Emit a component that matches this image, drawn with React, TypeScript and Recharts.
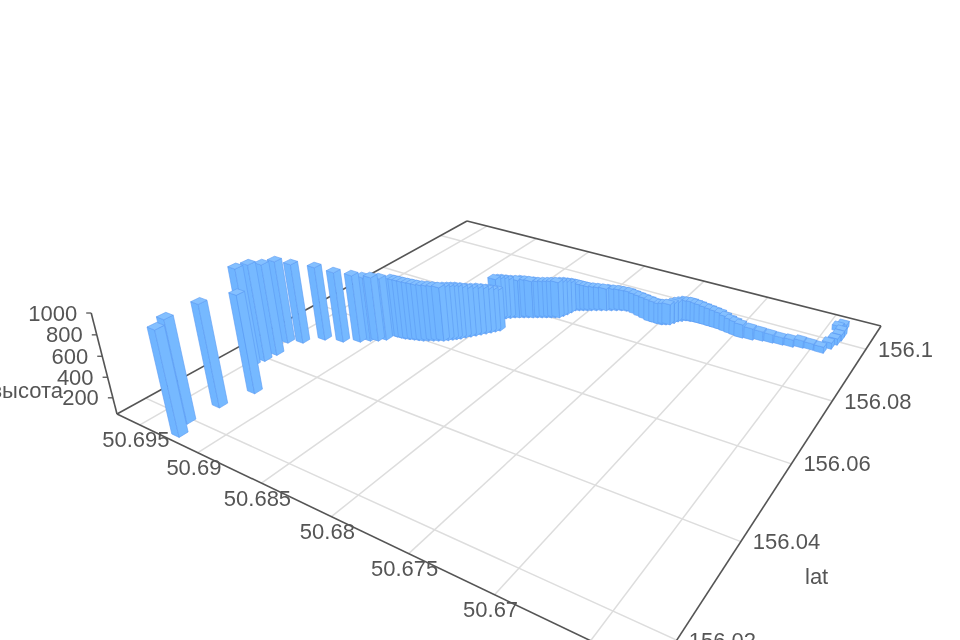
import React from 'react';
import { ScatterChart, Scatter, XAxis, YAxis, ReferenceLine } from 'recharts';

// lat / lon names follow the chart's own (swapped) axis naming: "lat" is the 156.x axis
const lonValues = [
  50.69238, 50.69305, 50.69279, 50.69219, 50.69471, 50.69454, 50.69445, 50.69501, 50.69415, 50.69319,
  50.69197, 50.691, 50.69052, 50.69007, 50.6897,
  50.68934, 50.68902, 50.6887, 50.6884, 50.6881, 50.6878, 50.6875, 50.68722, 50.68693, 50.68665,
  50.68636, 50.68614, 50.68593, 50.68575, 50.68556, 50.68536, 50.68515, 50.68494, 50.68473, 50.68452,
  50.68432, 50.68414, 50.68396,
  50.68498, 50.68478, 50.68459, 50.68436, 50.68413, 50.68386, 50.6836, 50.68333, 50.68306, 50.6828,
  50.68253, 50.68226, 50.68199, 50.68175, 50.68151, 50.68139, 50.68127, 50.68118, 50.6811, 50.68086,
  50.68062, 50.68037, 50.68013, 50.67983, 50.67953, 50.67923, 50.67893, 50.67862, 50.67832, 50.67798,
  50.67765, 50.67718, 50.67671, 50.67625, 50.67578, 50.67539, 50.675, 50.67476, 50.67453, 50.67438,
  50.67424, 50.67404, 50.67384, 50.67357, 50.6733, 50.673, 50.67271, 50.67233, 50.67195, 50.67157,
  50.6712, 50.6708, 50.6704, 50.67001, 50.66962, 50.66895, 50.66833, 50.66767, 50.66701, 50.66635,
  50.66575, 50.6651, 50.66442, 50.66414, 50.66397, 50.6639, 50.6639, 50.66428, 50.66407,
];
const latValues = [
  156.01646, 156.01951, 156.02542, 156.03148, 156.03747, 156.0398, 156.04244, 156.04664, 156.04811, 156.0511,
  156.05233, 156.054, 156.05528, 156.05607, 156.05714,
  156.05911, 156.05922, 156.05932, 156.0596, 156.05992, 156.06022, 156.06051, 156.061, 156.0615, 156.06199,
  156.06248, 156.06308, 156.06368, 156.06422, 156.06477, 156.06557, 156.06637, 156.06718, 156.06799, 156.0688,
  156.06961, 156.07038, 156.07115,
  156.07454, 156.07512, 156.07569, 156.07632, 156.07696, 156.07742, 156.07789, 156.07835, 156.07881, 156.07928,
  156.07974, 156.0802, 156.08067, 156.08108, 156.08149, 156.08244, 156.08338, 156.0845, 156.08563, 156.08605,
  156.08647, 156.08688, 156.0873, 156.08782, 156.08834, 156.08886, 156.08939, 156.08991, 156.09043, 156.09077,
  156.09111, 156.0907, 156.09029, 156.0899, 156.0895, 156.08947, 156.08944, 156.08985, 156.09025, 156.0912,
  156.09215, 156.09275, 156.09334, 156.09356, 156.09379, 156.09382, 156.09386, 156.09382, 156.09378, 156.09374,
  156.09369, 156.09346, 156.09324, 156.09302, 156.0928, 156.09308, 156.0937, 156.09398, 156.09425, 156.0945,
  156.09513, 156.09538, 156.09529, 156.09748, 156.09951, 156.10137, 156.10316, 156.10476, 156.10603,
];
const heightValues = [
  1030, 1020, 1030, 1000, 1025, 1020, 970, 895, 865, 807,
  773, 742, 712, 712, 692,
  653, 652, 652, 646, 640, 635, 629, 623, 618, 613,
  608, 603, 598, 593, 588, 573, 558, 548, 539, 524,
  508, 492, 477,
  485, 480, 474, 463, 453, 453, 453, 448, 442, 436,
  431, 431, 431, 431, 431, 415, 399, 372, 346, 335,
  323, 312, 301, 296, 290, 284, 278, 272, 267, 261,
  256, 260, 265, 270, 274, 268, 262, 262, 262, 257,
  252, 252, 253, 252, 252, 246, 241, 235, 229, 223,
  217, 205, 194, 188, 182, 160, 138, 127, 116, 116,
  116, 105, 104, 105, 106, 105, 106, 95, 95,
];

const lonTicks = [50.695, 50.69, 50.685, 50.68, 50.675, 50.67, 50.665];
const latTicks = [156.02, 156.04, 156.06, 156.08, 156.1];
const heightTicks = [200, 400, 600, 800, 1000];

const LON_MAX = 50.6971;
const LON_SPAN = 0.0352;
const LAT_MIN = 156.0145;
const LAT_SPAN = 0.0957;
const HEIGHT_MIN = 40;
const BAR_HALF = 0.009;

// camera: floor homography plus a vertical vanishing point
const project = (u: number, v: number, z: number) => {
  const t = -4.81e-5 * (z - HEIGHT_MIN);
  const w = -0.30094 * u + 0.46549 * v + 1 + t;
  return {
    sx: (341.6 * u + 567.4 * v + 117 + t * 650) / w,
    sy: (55.8 * u - 90.1 * v + 414 + t * 2500) / w,
  };
};
const uOf = (lon: number) => (LON_MAX - lon) / LON_SPAN;
const vOf = (lat: number) => (lat - LAT_MIN) / LAT_SPAN;

const bars = lonValues
  .map((lon, i) => {
    const u = uOf(lon);
    const v = vOf(latValues[i]);
    return { ...project(u, v, HEIGHT_MIN), u, v, height: heightValues[i], depth: -0.30094 * u + 0.46549 * v };
  })
  .sort((a, b) => b.depth - a.depth);

const labels = [
  ...lonTicks.map((t) => {
    const p = project(uOf(t), 0, HEIGHT_MIN);
    return { sx: p.sx - 4, sy: p.sy + 15, text: String(t), anchor: 'middle' };
  }),
  ...latTicks.map((t) => {
    const p = project(1, vOf(t), HEIGHT_MIN);
    return { sx: p.sx + 12, sy: p.sy, text: String(t), anchor: 'start' };
  }),
  ...heightTicks.map((t) => {
    const p = project(0, 0, t);
    return { sx: p.sx - 14, sy: p.sy, text: String(t), anchor: 'end' };
  }),
  { sx: 805, sy: 576, text: 'lat', anchor: 'start' },
  { sx: 63, sy: 390, text: 'высота', anchor: 'end' },
];

const Prism = (props: any) => {
  const { cx, cy, payload } = props;
  const { u, v, height, sx, sy } = payload;
  const pt = (du: number, dv: number, z: number) => {
    const p = project(u + du, v + dv, z);
    return `${(cx + p.sx - sx).toFixed(2)},${(cy + p.sy - sy).toFixed(2)}`;
  };
  const s = BAR_HALF;
  const face = (a: number[], b: number[]) =>
    [pt(a[0], a[1], HEIGHT_MIN), pt(b[0], b[1], HEIGHT_MIN), pt(b[0], b[1], height), pt(a[0], a[1], height)].join(' ');
  const top = [pt(-s, -s, height), pt(s, -s, height), pt(s, s, height), pt(-s, s, height)].join(' ');
  const line = { stroke: '#5a9bf4', strokeWidth: 0.6, strokeLinejoin: 'round' as const };
  return (
    <g>
      <polygon points={face([-s, -s], [s, -s])} fill="#70b5ff" {...line} />
      <polygon points={face([s, -s], [s, s])} fill="#76b9ff" {...line} />
      <polygon points={top} fill="#84c0ff" {...line} />
    </g>
  );
};

const Label = (props: any) => {
  const { cx, cy, payload } = props;
  return (
    <text
      x={cx}
      y={cy}
      textAnchor={payload.anchor}
      dominantBaseline="central"
      fontSize={22}
      fontFamily="Liberation Sans"
      fill="#555"
    >
      {payload.text}
    </text>
  );
};

const seg = (a: { sx: number; sy: number }, b: { sx: number; sy: number }) =>
  [{ x: a.sx, y: a.sy }, { x: b.sx, y: b.sy }] as any;

export default function App() {
  const c00 = project(0, 0, HEIGHT_MIN);
  const c10 = project(1, 0, HEIGHT_MIN);
  const c11 = project(1, 1, HEIGHT_MIN);
  const c01 = project(0, 1, HEIGHT_MIN);
  return (
    <div style={{ position: 'fixed', left: 0, top: 0, width: 960, height: 640, background: '#fff', filter: 'blur(0.7px)' }}>
      <ScatterChart width={960} height={640} margin={{ top: 0, right: 0, bottom: 0, left: 0 }}>
        <XAxis type="number" dataKey="sx" domain={[0, 960]} hide allowDataOverflow />
        <YAxis type="number" dataKey="sy" domain={[0, 640]} reversed hide allowDataOverflow />
        {lonTicks.map((t) => (
          <ReferenceLine
            key={t}
            segment={seg(project(uOf(t), 0, HEIGHT_MIN), project(uOf(t), 1, HEIGHT_MIN))}
            ifOverflow="visible"
            stroke="#ddd"
            strokeWidth={1.5}
          />
        ))}
        {latTicks.map((t) => (
          <ReferenceLine
            key={t}
            segment={seg(project(0, vOf(t), HEIGHT_MIN), project(1, vOf(t), HEIGHT_MIN))}
            ifOverflow="visible"
            stroke="#ddd"
            strokeWidth={1.5}
          />
        ))}
        <ReferenceLine segment={seg(c00, c10)} ifOverflow="visible" stroke="#555" strokeWidth={1.6} />
        <ReferenceLine segment={seg(c10, c11)} ifOverflow="visible" stroke="#555" strokeWidth={1.6} />
        <ReferenceLine segment={seg(c11, c01)} ifOverflow="visible" stroke="#555" strokeWidth={1.6} />
        <ReferenceLine segment={seg(c01, c00)} ifOverflow="visible" stroke="#555" strokeWidth={1.6} />
        <ReferenceLine segment={seg(c00, project(0, 0, 1000))} ifOverflow="visible" stroke="#555" strokeWidth={1.6} />
        {heightTicks.map((t) => {
          const p = project(0, 0, t);
          return (
            <ReferenceLine
              key={t}
              segment={seg(p, { sx: p.sx - 5, sy: p.sy })}
              ifOverflow="visible"
              stroke="#555"
              strokeWidth={1.3}
            />
          );
        })}
        <Scatter data={bars} isAnimationActive={false} shape={(p: any) => <Prism {...p} />} />
        <Scatter data={labels} isAnimationActive={false} shape={(p: any) => <Label {...p} />} />
      </ScatterChart>
    </div>
  );
}
